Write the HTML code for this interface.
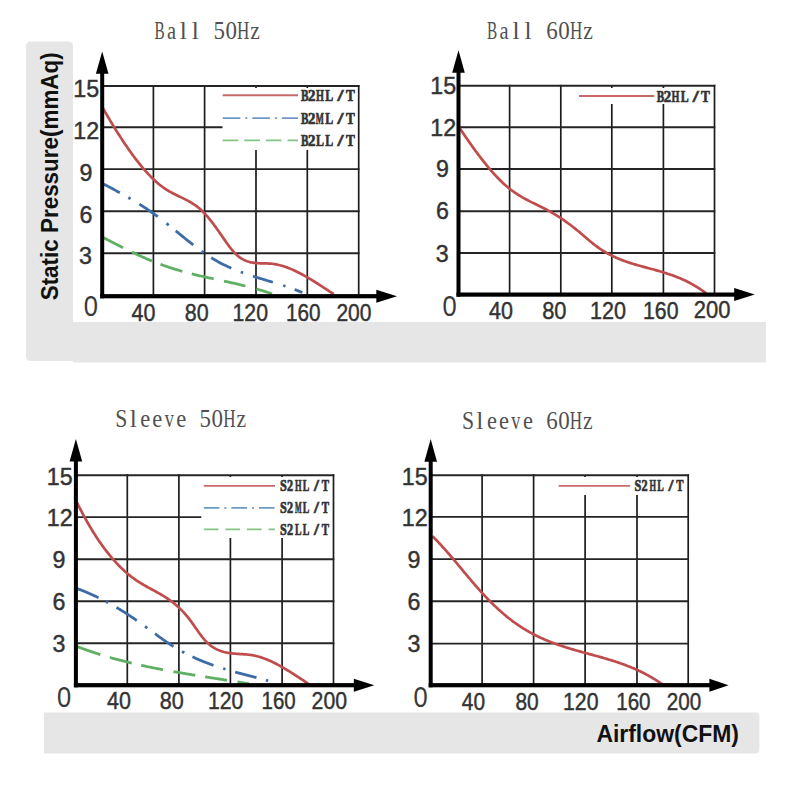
<!DOCTYPE html>
<html><head><meta charset="utf-8"><style>
html,body{margin:0;padding:0;background:#fff;}
body{width:790px;height:787px;overflow:hidden;}
svg{display:block;}
.num{font-family:"Liberation Sans",sans-serif;font-size:24.5px;fill:#333;stroke:#333;stroke-width:0.45px;}
.org{font-family:"Liberation Sans",sans-serif;font-size:29px;fill:#3a3a3a;}
.ttl{font-family:"Liberation Serif",serif;font-size:25.5px;fill:#505050;}
.lg{font-family:"Liberation Serif",serif;font-weight:bold;font-size:16.5px;fill:#333;stroke:#333;stroke-width:0.7px;}
.ax{font-family:"Liberation Sans",sans-serif;font-weight:bold;font-size:24.5px;fill:#111;}
</style></head><body>
<svg width="790" height="787" viewBox="0 0 790 787">
<path d="M26 46.6 Q26 41.6 31 41.6 L68 41.6 Q73 41.6 73 46.6 L73 321.7 L766 321.7 L766 362.4 L73 362.4 L73 361 L31 361 Q26 361 26 356 Z" fill="#e6e6e6"/>
<path d="M43.9 712.4 L755.4 712.4 Q759.4 712.4 759.4 716.4 L759.4 749.6 Q759.4 753.6 755.4 753.6 L43.9 753.6 Z" fill="#e6e6e6"/>
<rect x="73" y="41.6" width="700" height="280.1" fill="#ffffff"/>
<line x1="153.4" y1="85.0" x2="153.4" y2="296.2" stroke="#1c1c1c" stroke-width="1.7"/>
<line x1="204.6" y1="85.0" x2="204.6" y2="296.2" stroke="#1c1c1c" stroke-width="1.7"/>
<line x1="256.0" y1="86.0" x2="256.0" y2="88.0" stroke="#1c1c1c" stroke-width="1.7"/>
<line x1="256.0" y1="150.0" x2="256.0" y2="296.2" stroke="#1c1c1c" stroke-width="1.7"/>
<line x1="307.3" y1="86.0" x2="307.3" y2="88.0" stroke="#1c1c1c" stroke-width="1.7"/>
<line x1="307.3" y1="150.0" x2="307.3" y2="296.2" stroke="#1c1c1c" stroke-width="1.7"/>
<line x1="358.7" y1="85.0" x2="358.7" y2="296.2" stroke="#1c1c1c" stroke-width="1.7"/>
<line x1="102.2" y1="86.0" x2="359.5" y2="86.0" stroke="#242424" stroke-width="1.9"/>
<line x1="102.2" y1="127.3" x2="222.5" y2="127.3" stroke="#242424" stroke-width="1.9"/>
<line x1="102.2" y1="169.1" x2="359.5" y2="169.1" stroke="#242424" stroke-width="1.9"/>
<line x1="102.2" y1="211.2" x2="359.5" y2="211.2" stroke="#242424" stroke-width="1.9"/>
<line x1="102.2" y1="253.2" x2="359.5" y2="253.2" stroke="#242424" stroke-width="1.9"/>
<path d="M102.50 107.50 L103.50 109.23 L104.49 110.95 L105.49 112.66 L106.49 114.36 L107.48 116.05 L108.48 117.74 L109.48 119.41 L110.47 121.08 L111.47 122.73 L112.47 124.37 L113.46 126.01 L114.46 127.63 L115.46 129.24 L116.45 130.84 L117.45 132.42 L118.44 134.00 L119.44 135.56 L120.44 137.11 L121.43 138.64 L122.43 140.16 L123.43 141.67 L124.42 143.17 L125.42 144.65 L126.42 146.11 L127.41 147.56 L128.41 149.00 L129.41 150.42 L130.40 151.82 L131.40 153.21 L132.40 154.58 L133.39 155.94 L134.39 157.28 L135.39 158.60 L136.38 159.90 L137.38 161.19 L138.38 162.46 L139.37 163.71 L140.37 164.94 L141.37 166.15 L142.36 167.35 L143.36 168.52 L144.36 169.68 L145.35 170.81 L146.35 171.92 L147.34 173.02 L148.34 174.09 L149.34 175.14 L150.33 176.17 L151.33 177.18 L152.33 178.17 L153.32 179.13 L154.32 180.08 L155.32 180.99 L156.31 181.89 L157.31 182.76 L158.31 183.61 L159.30 184.44 L160.30 185.24 L161.30 186.01 L162.29 186.76 L163.29 187.49 L164.29 188.19 L165.28 188.87 L166.28 189.52 L167.28 190.14 L168.27 190.74 L169.27 191.33 L170.27 191.89 L171.26 192.44 L172.26 192.97 L173.26 193.49 L174.25 193.99 L175.25 194.49 L176.24 194.98 L177.24 195.47 L178.24 195.95 L179.23 196.42 L180.23 196.90 L181.23 197.38 L182.22 197.86 L183.22 198.35 L184.22 198.84 L185.21 199.34 L186.21 199.85 L187.21 200.38 L188.20 200.92 L189.20 201.47 L190.20 202.04 L191.19 202.63 L192.19 203.25 L193.19 203.88 L194.18 204.55 L195.18 205.23 L196.18 205.95 L197.17 206.70 L198.17 207.48 L199.17 208.29 L200.16 209.14 L201.16 210.03 L202.16 210.96 L203.15 211.93 L204.15 212.94 L205.14 214.00 L206.14 215.09 L207.14 216.22 L208.13 217.39 L209.13 218.59 L210.13 219.82 L211.12 221.08 L212.12 222.36 L213.12 223.67 L214.11 225.01 L215.11 226.36 L216.11 227.74 L217.10 229.13 L218.10 230.53 L219.10 231.95 L220.09 233.37 L221.09 234.81 L222.09 236.25 L223.08 237.69 L224.08 239.14 L225.08 240.58 L226.07 242.01 L227.07 243.42 L228.07 244.81 L229.06 246.17 L230.06 247.50 L231.06 248.78 L232.05 250.00 L233.05 251.17 L234.04 252.28 L235.04 253.32 L236.04 254.29 L237.03 255.20 L238.03 256.04 L239.03 256.83 L240.02 257.56 L241.02 258.23 L242.02 258.85 L243.01 259.41 L244.01 259.92 L245.01 260.39 L246.00 260.81 L247.00 261.19 L248.00 261.53 L248.99 261.82 L249.99 262.09 L250.99 262.32 L251.98 262.51 L252.98 262.68 L253.98 262.83 L254.97 262.95 L255.97 263.05 L256.97 263.13 L257.96 263.19 L258.96 263.24 L259.96 263.28 L260.95 263.32 L261.95 263.34 L262.94 263.36 L263.94 263.38 L264.94 263.40 L265.93 263.42 L266.93 263.45 L267.93 263.49 L268.92 263.54 L269.92 263.60 L270.92 263.68 L271.91 263.78 L272.91 263.89 L273.91 264.03 L274.90 264.18 L275.90 264.35 L276.90 264.55 L277.89 264.75 L278.89 264.98 L279.89 265.23 L280.88 265.49 L281.88 265.76 L282.88 266.06 L283.87 266.37 L284.87 266.69 L285.87 267.03 L286.86 267.39 L287.86 267.76 L288.86 268.14 L289.85 268.54 L290.85 268.95 L291.84 269.37 L292.84 269.81 L293.84 270.26 L294.83 270.72 L295.83 271.19 L296.83 271.67 L297.82 272.17 L298.82 272.67 L299.82 273.18 L300.81 273.71 L301.81 274.24 L302.81 274.78 L303.80 275.34 L304.80 275.89 L305.80 276.46 L306.79 277.04 L307.79 277.62 L308.79 278.21 L309.78 278.80 L310.78 279.41 L311.78 280.01 L312.77 280.63 L313.77 281.24 L314.77 281.87 L315.76 282.49 L316.76 283.12 L317.76 283.76 L318.75 284.40 L319.75 285.04 L320.74 285.68 L321.74 286.33 L322.74 286.97 L323.73 287.62 L324.73 288.27 L325.73 288.92 L326.72 289.58 L327.72 290.23 L328.72 290.88 L329.71 291.53 L330.71 292.18 L331.71 292.83 L332.70 293.47 L333.70 294.12" fill="none" stroke="#bf4d4d" stroke-width="2.70" stroke-linecap="butt" stroke-linejoin="round"/>
<path d="M102.50 183.65 L103.46 184.14 L104.42 184.62 L105.38 185.11 L106.34 185.61 L107.31 186.10 L108.27 186.59 L109.23 187.09 L110.19 187.59 L111.15 188.09 L112.11 188.59 L113.07 189.10 L114.03 189.61 L114.99 190.12 L115.96 190.63 L116.92 191.14 L117.88 191.66 L118.84 192.18 L119.80 192.70 M128.30 197.47 L129.07 197.91 L129.83 198.36 L130.60 198.81 M139.40 204.14 L140.37 204.75 L141.34 205.37 L142.31 205.99 L143.27 206.62 L144.24 207.25 L145.21 207.89 L146.18 208.53 L147.15 209.18 L148.12 209.83 L149.08 210.49 L150.05 211.16 L151.02 211.83 L151.99 212.51 L152.96 213.19 L153.93 213.88 L154.89 214.58 L155.86 215.28 L156.83 215.99 L157.80 216.70 M166.50 223.40 L167.27 224.01 L168.03 224.62 L168.80 225.23 M175.70 230.82 L176.68 231.61 L177.66 232.41 L178.63 233.21 L179.61 234.01 L180.59 234.80 L181.57 235.60 L182.54 236.40 L183.52 237.19 L184.50 237.98 L185.48 238.77 L186.46 239.56 L187.43 240.35 L188.41 241.13 L189.39 241.91 L190.37 242.68 L191.34 243.45 L192.32 244.22 L193.30 244.98 M201.50 251.13 L202.27 251.68 L203.03 252.23 L203.80 252.77 M211.20 257.69 L212.16 258.28 L213.11 258.86 L214.07 259.44 L215.03 260.00 L215.99 260.55 L216.94 261.09 L217.90 261.63 L218.86 262.15 L219.81 262.66 L220.77 263.17 L221.73 263.67 L222.69 264.15 L223.64 264.63 L224.60 265.11 L225.56 265.57 L226.51 266.02 L227.47 266.47 L228.43 266.91 L229.39 267.34 L230.34 267.77 L231.30 268.19 M240.80 272.00 L241.57 272.28 L242.33 272.56 L243.10 272.84 M253.00 276.20 L254.00 276.51 L254.99 276.83 L255.98 277.14 L256.98 277.45 L257.98 277.76 L258.97 278.07 L259.96 278.37 L260.96 278.67 L261.95 278.98 L262.95 279.28 L263.94 279.58 L264.94 279.87 L265.94 280.17 L266.93 280.47 L267.92 280.77 L268.92 281.07 L269.91 281.37 L270.91 281.67 L271.90 281.97 L272.90 282.27 M283.20 285.49 L283.97 285.74 L284.73 285.99 L285.50 286.25 M294.70 289.50 L295.65 289.87 L296.60 290.23 L297.55 290.60 L298.50 290.98 L299.45 291.37 L300.40 291.75 L301.35 292.15 L302.30 292.55" fill="none" stroke="#3d6ca6" stroke-width="2.80" stroke-linecap="butt" stroke-linejoin="round"/>
<path d="M102.60 237.33 L103.58 237.82 L104.55 238.31 L105.53 238.80 L106.50 239.29 L107.48 239.79 L108.46 240.28 L109.43 240.78 L110.41 241.27 L111.39 241.77 L112.36 242.26 L113.34 242.76 L114.31 243.25 L115.29 243.75 L116.27 244.24 L117.24 244.73 L118.22 245.23 L119.20 245.72 L120.17 246.21 L121.15 246.70 L122.12 247.19 L123.10 247.68 M132.00 252.06 L133.00 252.54 L134.00 253.02 L135.00 253.50 L136.00 253.97 L137.00 254.44 L138.00 254.91 L139.00 255.37 L140.00 255.83 L141.00 256.29 L142.00 256.74 L143.00 257.19 L144.00 257.63 L145.00 258.07 L146.00 258.51 L147.00 258.94 L148.00 259.37 L149.00 259.80 L150.00 260.21 L151.00 260.63 L152.00 261.04 M160.50 264.32 L161.49 264.68 L162.48 265.04 L163.47 265.39 L164.46 265.74 L165.45 266.08 L166.45 266.42 L167.44 266.75 L168.43 267.08 L169.42 267.41 L170.41 267.73 L171.40 268.05 L172.39 268.37 L173.38 268.68 L174.37 268.99 L175.36 269.29 L176.35 269.59 L177.35 269.89 L178.34 270.18 L179.33 270.47 L180.32 270.76 L181.31 271.04 L182.30 271.32 M191.80 273.85 L192.80 274.10 L193.79 274.34 L194.79 274.59 L195.78 274.83 L196.78 275.07 L197.77 275.31 L198.77 275.54 L199.76 275.78 L200.76 276.01 L201.75 276.24 L202.75 276.46 L203.75 276.69 L204.74 276.92 L205.74 277.14 L206.73 277.36 L207.73 277.58 L208.72 277.80 L209.72 278.02 L210.71 278.24 L211.71 278.45 L212.70 278.67 L213.70 278.89 M224.00 281.10 L224.97 281.31 L225.95 281.52 L226.92 281.74 L227.89 281.95 L228.86 282.16 L229.84 282.38 L230.81 282.59 L231.78 282.81 L232.75 283.02 L233.73 283.24 L234.70 283.46 L235.67 283.68 L236.65 283.91 L237.62 284.13 L238.59 284.36 L239.56 284.59 L240.54 284.82 L241.51 285.05 L242.48 285.28 L243.45 285.52 L244.43 285.76 L245.40 286.00 M256.40 288.92 L257.38 289.20 L258.35 289.48 L259.32 289.77 L260.30 290.06 L261.27 290.35 L262.25 290.65 L263.22 290.95 L264.20 291.26 L265.18 291.57 L266.15 291.89 L267.12 292.21 L268.10 292.53 L269.07 292.86 L270.05 293.19 L271.02 293.53 L272.00 293.87" fill="none" stroke="#5fb065" stroke-width="2.80" stroke-linecap="butt" stroke-linejoin="round"/>
<rect x="100.2" y="72.8" width="4" height="225.5" fill="#000"/>
<polygon points="102.2,51.5 95.9,73.8 108.5,73.8" fill="#000"/>
<rect x="100.2" y="294.1" width="277.1" height="4.2" fill="#000"/>
<polygon points="397.0,296.2 376.3,289.7 376.3,302.7" fill="#000"/>
<line x1="222.7" y1="95.3" x2="298.0" y2="95.3" stroke="#c96a6a" stroke-width="1.9"/>
<text x="0" y="100.9" transform="translate(304.70 0) scale(0.680 1)" text-anchor="middle" class="lg" style="font-size:16.5px">B</text>
<text x="0" y="100.9" transform="translate(311.80 0) scale(0.900 1)" text-anchor="middle" class="lg" style="font-size:16.5px">2</text>
<text x="0" y="100.9" transform="translate(319.90 0) scale(0.620 1)" text-anchor="middle" class="lg" style="font-size:16.5px">H</text>
<text x="0" y="100.9" transform="translate(329.20 0) scale(0.720 1)" text-anchor="middle" class="lg" style="font-size:16.5px">L</text>
<text x="0" y="100.9" transform="translate(340.60 0) scale(1.300 1)" text-anchor="middle" class="lg" style="font-size:16.5px">/</text>
<text x="0" y="100.9" transform="translate(350.50 0) scale(0.800 1)" text-anchor="middle" class="lg" style="font-size:16.5px">T</text>
<line x1="222.7" y1="118.1" x2="298.0" y2="118.1" stroke="#6f98c8" stroke-width="1.9" stroke-dasharray="17.6 5 2 5"/>
<text x="0" y="123.7" transform="translate(304.70 0) scale(0.680 1)" text-anchor="middle" class="lg" style="font-size:16.5px">B</text>
<text x="0" y="123.7" transform="translate(311.80 0) scale(0.900 1)" text-anchor="middle" class="lg" style="font-size:16.5px">2</text>
<text x="0" y="123.7" transform="translate(319.90 0) scale(0.520 1)" text-anchor="middle" class="lg" style="font-size:16.5px">M</text>
<text x="0" y="123.7" transform="translate(329.20 0) scale(0.720 1)" text-anchor="middle" class="lg" style="font-size:16.5px">L</text>
<text x="0" y="123.7" transform="translate(340.60 0) scale(1.300 1)" text-anchor="middle" class="lg" style="font-size:16.5px">/</text>
<text x="0" y="123.7" transform="translate(350.50 0) scale(0.800 1)" text-anchor="middle" class="lg" style="font-size:16.5px">T</text>
<line x1="222.7" y1="140.4" x2="298.0" y2="140.4" stroke="#86c486" stroke-width="1.9" stroke-dasharray="15.6 6"/>
<text x="0" y="146.0" transform="translate(304.70 0) scale(0.680 1)" text-anchor="middle" class="lg" style="font-size:16.5px">B</text>
<text x="0" y="146.0" transform="translate(311.80 0) scale(0.900 1)" text-anchor="middle" class="lg" style="font-size:16.5px">2</text>
<text x="0" y="146.0" transform="translate(319.90 0) scale(0.720 1)" text-anchor="middle" class="lg" style="font-size:16.5px">L</text>
<text x="0" y="146.0" transform="translate(329.20 0) scale(0.720 1)" text-anchor="middle" class="lg" style="font-size:16.5px">L</text>
<text x="0" y="146.0" transform="translate(340.60 0) scale(1.300 1)" text-anchor="middle" class="lg" style="font-size:16.5px">/</text>
<text x="0" y="146.0" transform="translate(350.50 0) scale(0.800 1)" text-anchor="middle" class="lg" style="font-size:16.5px">T</text>
<text x="0" y="96.9" transform="translate(86.2 0) scale(0.95 1)" class="num" text-anchor="middle">15</text>
<text x="0" y="138.9" transform="translate(86.2 0) scale(0.95 1)" class="num" text-anchor="middle">12</text>
<text x="0" y="180.9" transform="translate(86.0 0) scale(0.95 1)" class="num" text-anchor="middle">9</text>
<text x="0" y="222.9" transform="translate(86.0 0) scale(0.95 1)" class="num" text-anchor="middle">6</text>
<text x="0" y="264.4" transform="translate(85.4 0) scale(0.95 1)" class="num" text-anchor="middle">3</text>
<text x="0" y="316.0" transform="translate(90.8 0) scale(0.88 1)" class="org" text-anchor="middle">0</text>
<text x="131.5" y="320.6" textLength="23.9" lengthAdjust="spacingAndGlyphs" class="num">40</text>
<text x="184.7" y="320.6" textLength="23.9" lengthAdjust="spacingAndGlyphs" class="num">80</text>
<text x="232.5" y="320.6" textLength="35.5" lengthAdjust="spacingAndGlyphs" class="num">120</text>
<text x="286.0" y="320.6" textLength="34.6" lengthAdjust="spacingAndGlyphs" class="num">160</text>
<text x="336.4" y="320.6" textLength="35.1" lengthAdjust="spacingAndGlyphs" class="num">200</text>
<text x="0" y="39.20" transform="translate(159.48 0) scale(0.600 1)" text-anchor="middle" class="ttl">B</text>
<text x="0" y="39.20" transform="translate(171.44 0) scale(0.800 1)" text-anchor="middle" class="ttl">a</text>
<text x="0" y="39.20" transform="translate(183.40 0) scale(1.000 1)" text-anchor="middle" class="ttl">l</text>
<text x="0" y="39.20" transform="translate(195.36 0) scale(1.000 1)" text-anchor="middle" class="ttl">l</text>
<text x="0" y="39.20" transform="translate(219.28 0) scale(0.900 1)" text-anchor="middle" class="ttl">5</text>
<text x="0" y="39.20" transform="translate(231.24 0) scale(0.900 1)" text-anchor="middle" class="ttl">0</text>
<text x="0" y="39.20" transform="translate(243.20 0) scale(0.670 1)" text-anchor="middle" class="ttl">H</text>
<text x="0" y="39.20" transform="translate(255.16 0) scale(0.850 1)" text-anchor="middle" class="ttl">z</text>
<line x1="509.6" y1="84.8" x2="509.6" y2="294.6" stroke="#1c1c1c" stroke-width="1.7"/>
<line x1="560.8" y1="84.8" x2="560.8" y2="294.6" stroke="#1c1c1c" stroke-width="1.7"/>
<line x1="611.8" y1="85.8" x2="611.8" y2="88.0" stroke="#1c1c1c" stroke-width="1.7"/>
<line x1="611.8" y1="104.0" x2="611.8" y2="294.6" stroke="#1c1c1c" stroke-width="1.7"/>
<line x1="663.4" y1="85.8" x2="663.4" y2="88.0" stroke="#1c1c1c" stroke-width="1.7"/>
<line x1="663.4" y1="104.0" x2="663.4" y2="294.6" stroke="#1c1c1c" stroke-width="1.7"/>
<line x1="714.5" y1="84.8" x2="714.5" y2="294.6" stroke="#1c1c1c" stroke-width="1.7"/>
<line x1="458.5" y1="85.8" x2="715.3" y2="85.8" stroke="#242424" stroke-width="1.9"/>
<line x1="458.5" y1="127.3" x2="715.3" y2="127.3" stroke="#242424" stroke-width="1.9"/>
<line x1="458.5" y1="169.0" x2="715.3" y2="169.0" stroke="#242424" stroke-width="1.9"/>
<line x1="458.5" y1="211.2" x2="715.3" y2="211.2" stroke="#242424" stroke-width="1.9"/>
<line x1="458.5" y1="253.0" x2="715.3" y2="253.0" stroke="#242424" stroke-width="1.9"/>
<path d="M459.00 127.13 L460.00 128.62 L461.00 130.10 L461.99 131.57 L462.99 133.04 L463.99 134.51 L464.99 135.96 L465.99 137.41 L466.98 138.85 L467.98 140.29 L468.98 141.72 L469.98 143.13 L470.98 144.54 L471.97 145.95 L472.97 147.34 L473.97 148.72 L474.97 150.09 L475.97 151.45 L476.96 152.80 L477.96 154.14 L478.96 155.47 L479.96 156.78 L480.96 158.09 L481.95 159.38 L482.95 160.66 L483.95 161.92 L484.95 163.17 L485.95 164.41 L486.94 165.63 L487.94 166.84 L488.94 168.03 L489.94 169.21 L490.94 170.37 L491.93 171.52 L492.93 172.65 L493.93 173.76 L494.93 174.86 L495.93 175.93 L496.92 176.99 L497.92 178.04 L498.92 179.06 L499.92 180.06 L500.92 181.05 L501.91 182.02 L502.91 182.96 L503.91 183.89 L504.91 184.79 L505.91 185.68 L506.90 186.54 L507.90 187.38 L508.90 188.20 L509.90 188.99 L510.90 189.77 L511.89 190.52 L512.89 191.25 L513.89 191.96 L514.89 192.66 L515.89 193.33 L516.88 193.99 L517.88 194.63 L518.88 195.26 L519.88 195.87 L520.88 196.46 L521.87 197.05 L522.87 197.62 L523.87 198.18 L524.87 198.73 L525.86 199.27 L526.86 199.80 L527.86 200.32 L528.86 200.83 L529.86 201.34 L530.85 201.84 L531.85 202.34 L532.85 202.84 L533.85 203.33 L534.85 203.82 L535.84 204.30 L536.84 204.79 L537.84 205.28 L538.84 205.76 L539.84 206.25 L540.83 206.74 L541.83 207.24 L542.83 207.74 L543.83 208.24 L544.83 208.75 L545.82 209.27 L546.82 209.80 L547.82 210.33 L548.82 210.87 L549.82 211.43 L550.81 211.99 L551.81 212.56 L552.81 213.14 L553.81 213.73 L554.81 214.33 L555.80 214.94 L556.80 215.56 L557.80 216.19 L558.80 216.83 L559.80 217.48 L560.79 218.14 L561.79 218.80 L562.79 219.48 L563.79 220.17 L564.79 220.86 L565.78 221.57 L566.78 222.28 L567.78 223.00 L568.78 223.74 L569.78 224.48 L570.77 225.23 L571.77 225.99 L572.77 226.76 L573.77 227.54 L574.77 228.33 L575.76 229.12 L576.76 229.93 L577.76 230.74 L578.76 231.57 L579.76 232.40 L580.75 233.25 L581.75 234.09 L582.75 234.95 L583.75 235.80 L584.75 236.66 L585.74 237.51 L586.74 238.37 L587.74 239.22 L588.74 240.07 L589.74 240.91 L590.73 241.74 L591.73 242.56 L592.73 243.36 L593.73 244.16 L594.73 244.94 L595.72 245.70 L596.72 246.45 L597.72 247.18 L598.72 247.88 L599.72 248.58 L600.71 249.25 L601.71 249.90 L602.71 250.54 L603.71 251.17 L604.71 251.77 L605.70 252.36 L606.70 252.94 L607.70 253.50 L608.70 254.04 L609.70 254.58 L610.69 255.09 L611.69 255.60 L612.69 256.09 L613.69 256.57 L614.69 257.04 L615.68 257.49 L616.68 257.93 L617.68 258.36 L618.68 258.78 L619.68 259.19 L620.67 259.59 L621.67 259.98 L622.67 260.37 L623.67 260.74 L624.67 261.10 L625.66 261.46 L626.66 261.80 L627.66 262.14 L628.66 262.47 L629.66 262.80 L630.65 263.12 L631.65 263.43 L632.65 263.74 L633.65 264.04 L634.65 264.34 L635.64 264.63 L636.64 264.92 L637.64 265.21 L638.64 265.49 L639.64 265.77 L640.63 266.04 L641.63 266.32 L642.63 266.59 L643.63 266.86 L644.62 267.13 L645.62 267.40 L646.62 267.66 L647.62 267.93 L648.62 268.20 L649.61 268.47 L650.61 268.73 L651.61 269.00 L652.61 269.28 L653.61 269.55 L654.60 269.82 L655.60 270.10 L656.60 270.38 L657.60 270.66 L658.60 270.94 L659.59 271.23 L660.59 271.52 L661.59 271.82 L662.59 272.12 L663.59 272.42 L664.58 272.73 L665.58 273.04 L666.58 273.36 L667.58 273.68 L668.58 274.01 L669.57 274.35 L670.57 274.69 L671.57 275.04 L672.57 275.39 L673.57 275.76 L674.56 276.13 L675.56 276.51 L676.56 276.89 L677.56 277.29 L678.56 277.69 L679.55 278.10 L680.55 278.52 L681.55 278.95 L682.55 279.39 L683.55 279.85 L684.54 280.31 L685.54 280.78 L686.54 281.26 L687.54 281.75 L688.54 282.26 L689.53 282.78 L690.53 283.31 L691.53 283.85 L692.53 284.40 L693.53 284.97 L694.52 285.55 L695.52 286.14 L696.52 286.75 L697.52 287.37 L698.52 288.01 L699.51 288.66 L700.51 289.32 L701.51 290.00 L702.51 290.70 L703.51 291.41 L704.50 292.14 L705.50 292.88 L706.50 293.65" fill="none" stroke="#bf4d4d" stroke-width="2.70" stroke-linecap="butt" stroke-linejoin="round"/>
<rect x="456.5" y="71.8" width="4" height="224.9" fill="#000"/>
<polygon points="458.5,50.2 452.2,72.8 464.8,72.8" fill="#000"/>
<rect x="456.5" y="292.5" width="278.7" height="4.2" fill="#000"/>
<polygon points="754.8,294.6 734.2,288.1 734.2,301.1" fill="#000"/>
<line x1="579.0" y1="96.0" x2="654.3" y2="96.0" stroke="#c96a6a" stroke-width="1.9"/>
<text x="0" y="101.6" transform="translate(660.54 0) scale(0.680 1)" text-anchor="middle" class="lg" style="font-size:16.5px">B</text>
<text x="0" y="101.6" transform="translate(667.51 0) scale(0.900 1)" text-anchor="middle" class="lg" style="font-size:16.5px">2</text>
<text x="0" y="101.6" transform="translate(675.46 0) scale(0.620 1)" text-anchor="middle" class="lg" style="font-size:16.5px">H</text>
<text x="0" y="101.6" transform="translate(684.58 0) scale(0.720 1)" text-anchor="middle" class="lg" style="font-size:16.5px">L</text>
<text x="0" y="101.6" transform="translate(695.77 0) scale(1.300 1)" text-anchor="middle" class="lg" style="font-size:16.5px">/</text>
<text x="0" y="101.6" transform="translate(705.48 0) scale(0.800 1)" text-anchor="middle" class="lg" style="font-size:16.5px">T</text>
<text x="0" y="93.6" transform="translate(443.2 0) scale(0.95 1)" class="num" text-anchor="middle">15</text>
<text x="0" y="135.6" transform="translate(443.2 0) scale(0.95 1)" class="num" text-anchor="middle">12</text>
<text x="0" y="177.4" transform="translate(442.5 0) scale(0.95 1)" class="num" text-anchor="middle">9</text>
<text x="0" y="219.4" transform="translate(442.5 0) scale(0.95 1)" class="num" text-anchor="middle">6</text>
<text x="0" y="262.2" transform="translate(442.1 0) scale(0.95 1)" class="num" text-anchor="middle">3</text>
<text x="0" y="316.2" transform="translate(449.6 0) scale(0.88 1)" class="org" text-anchor="middle">0</text>
<text x="489.1" y="318.6" textLength="23.9" lengthAdjust="spacingAndGlyphs" class="num">40</text>
<text x="542.2" y="318.6" textLength="24.3" lengthAdjust="spacingAndGlyphs" class="num">80</text>
<text x="590.0" y="318.6" textLength="36.0" lengthAdjust="spacingAndGlyphs" class="num">120</text>
<text x="643.0" y="318.6" textLength="35.5" lengthAdjust="spacingAndGlyphs" class="num">160</text>
<text x="693.8" y="318.2" textLength="36.6" lengthAdjust="spacingAndGlyphs" class="num">200</text>
<text x="0" y="39.20" transform="translate(492.10 0) scale(0.600 1)" text-anchor="middle" class="ttl">B</text>
<text x="0" y="39.20" transform="translate(504.10 0) scale(0.800 1)" text-anchor="middle" class="ttl">a</text>
<text x="0" y="39.20" transform="translate(516.10 0) scale(1.000 1)" text-anchor="middle" class="ttl">l</text>
<text x="0" y="39.20" transform="translate(528.10 0) scale(1.000 1)" text-anchor="middle" class="ttl">l</text>
<text x="0" y="39.20" transform="translate(552.10 0) scale(0.900 1)" text-anchor="middle" class="ttl">6</text>
<text x="0" y="39.20" transform="translate(564.10 0) scale(0.900 1)" text-anchor="middle" class="ttl">0</text>
<text x="0" y="39.20" transform="translate(576.10 0) scale(0.670 1)" text-anchor="middle" class="ttl">H</text>
<text x="0" y="39.20" transform="translate(588.10 0) scale(0.850 1)" text-anchor="middle" class="ttl">z</text>
<line x1="127.3" y1="474.2" x2="127.3" y2="685.2" stroke="#1c1c1c" stroke-width="1.7"/>
<line x1="178.9" y1="474.2" x2="178.9" y2="685.2" stroke="#1c1c1c" stroke-width="1.7"/>
<line x1="230.4" y1="475.2" x2="230.4" y2="477.0" stroke="#1c1c1c" stroke-width="1.7"/>
<line x1="230.4" y1="538.0" x2="230.4" y2="685.2" stroke="#1c1c1c" stroke-width="1.7"/>
<line x1="282.1" y1="475.2" x2="282.1" y2="477.0" stroke="#1c1c1c" stroke-width="1.7"/>
<line x1="282.1" y1="538.0" x2="282.1" y2="685.2" stroke="#1c1c1c" stroke-width="1.7"/>
<line x1="333.5" y1="474.2" x2="333.5" y2="685.2" stroke="#1c1c1c" stroke-width="1.7"/>
<line x1="75.9" y1="475.2" x2="334.3" y2="475.2" stroke="#242424" stroke-width="1.9"/>
<line x1="75.9" y1="517.1" x2="201.3" y2="517.1" stroke="#242424" stroke-width="1.9"/>
<line x1="75.9" y1="559.2" x2="334.3" y2="559.2" stroke="#242424" stroke-width="1.9"/>
<line x1="75.9" y1="601.3" x2="334.3" y2="601.3" stroke="#242424" stroke-width="1.9"/>
<line x1="75.9" y1="643.3" x2="334.3" y2="643.3" stroke="#242424" stroke-width="1.9"/>
<path d="M77.00 502.61 L78.00 504.62 L79.00 506.60 L80.00 508.56 L81.00 510.49 L82.00 512.40 L83.00 514.28 L84.00 516.13 L85.00 517.96 L86.00 519.76 L87.00 521.54 L88.00 523.29 L89.00 525.01 L90.00 526.71 L91.00 528.39 L92.00 530.04 L93.00 531.67 L94.00 533.27 L95.00 534.84 L96.00 536.40 L97.00 537.92 L98.00 539.43 L99.00 540.91 L100.00 542.36 L101.00 543.80 L102.00 545.20 L103.00 546.59 L104.00 547.95 L105.00 549.29 L106.00 550.61 L107.00 551.90 L108.00 553.17 L109.00 554.42 L110.00 555.64 L111.00 556.85 L112.00 558.03 L113.00 559.19 L114.00 560.32 L115.00 561.44 L116.00 562.53 L117.00 563.61 L118.00 564.66 L119.00 565.69 L120.00 566.70 L121.00 567.68 L122.00 568.65 L123.00 569.60 L124.00 570.52 L125.00 571.43 L126.00 572.32 L127.00 573.18 L128.00 574.03 L129.00 574.85 L130.00 575.66 L131.00 576.45 L132.00 577.21 L133.00 577.96 L134.00 578.69 L135.00 579.40 L136.00 580.09 L137.00 580.77 L138.00 581.43 L139.00 582.07 L140.00 582.70 L141.00 583.31 L142.00 583.91 L143.00 584.51 L144.00 585.09 L145.00 585.66 L146.00 586.23 L147.00 586.79 L148.00 587.34 L149.00 587.89 L150.00 588.43 L151.00 588.98 L152.00 589.52 L153.00 590.06 L154.00 590.60 L155.00 591.15 L156.00 591.70 L157.00 592.25 L158.00 592.81 L159.00 593.37 L160.00 593.94 L161.00 594.52 L162.00 595.11 L163.00 595.71 L164.00 596.33 L165.00 596.95 L166.00 597.59 L167.00 598.25 L168.00 598.92 L169.00 599.61 L170.00 600.31 L171.00 601.04 L172.00 601.79 L173.00 602.55 L174.00 603.35 L175.00 604.16 L176.00 605.00 L177.00 605.87 L178.00 606.76 L179.00 607.68 L180.00 608.63 L181.00 609.62 L182.00 610.63 L183.00 611.67 L184.00 612.75 L185.00 613.87 L186.00 615.02 L187.00 616.20 L188.00 617.43 L189.00 618.69 L190.00 620.00 L191.00 621.34 L192.00 622.72 L193.00 624.12 L194.00 625.54 L195.00 626.98 L196.00 628.42 L197.00 629.85 L198.00 631.28 L199.00 632.69 L200.00 634.07 L201.00 635.41 L202.00 636.72 L203.00 637.98 L204.00 639.19 L205.00 640.33 L206.00 641.40 L207.00 642.41 L208.00 643.35 L209.00 644.23 L210.00 645.06 L211.00 645.82 L212.00 646.54 L213.00 647.20 L214.00 647.82 L215.00 648.39 L216.00 648.92 L217.00 649.42 L218.00 649.88 L219.00 650.30 L220.00 650.69 L221.00 651.06 L222.00 651.39 L223.00 651.69 L224.00 651.97 L225.00 652.22 L226.00 652.45 L227.00 652.65 L228.00 652.84 L229.00 653.00 L230.00 653.15 L231.00 653.29 L232.00 653.41 L233.00 653.51 L234.00 653.61 L235.00 653.70 L236.00 653.77 L237.00 653.84 L238.00 653.91 L239.00 653.97 L240.00 654.03 L241.00 654.09 L242.00 654.15 L243.00 654.22 L244.00 654.29 L245.00 654.36 L246.00 654.44 L247.00 654.53 L248.00 654.63 L249.00 654.74 L250.00 654.86 L251.00 655.00 L252.00 655.16 L253.00 655.33 L254.00 655.52 L255.00 655.74 L256.00 655.96 L257.00 656.21 L258.00 656.47 L259.00 656.76 L260.00 657.05 L261.00 657.37 L262.00 657.70 L263.00 658.04 L264.00 658.40 L265.00 658.78 L266.00 659.17 L267.00 659.57 L268.00 659.99 L269.00 660.42 L270.00 660.86 L271.00 661.31 L272.00 661.78 L273.00 662.26 L274.00 662.75 L275.00 663.25 L276.00 663.76 L277.00 664.29 L278.00 664.82 L279.00 665.36 L280.00 665.91 L281.00 666.47 L282.00 667.04 L283.00 667.61 L284.00 668.20 L285.00 668.79 L286.00 669.38 L287.00 669.99 L288.00 670.60 L289.00 671.21 L290.00 671.83 L291.00 672.46 L292.00 673.09 L293.00 673.72 L294.00 674.36 L295.00 675.00 L296.00 675.65 L297.00 676.29 L298.00 676.94 L299.00 677.59 L300.00 678.25 L301.00 678.90 L302.00 679.56 L303.00 680.21 L304.00 680.87 L305.00 681.52 L306.00 682.18 L307.00 682.83 L308.00 683.48" fill="none" stroke="#bf4d4d" stroke-width="2.70" stroke-linecap="butt" stroke-linejoin="round"/>
<path d="M77.00 588.47 L77.98 588.84 L78.95 589.21 L79.93 589.59 L80.91 589.98 L81.89 590.37 L82.86 590.76 L83.84 591.16 L84.82 591.56 L85.80 591.97 L86.77 592.39 L87.75 592.81 L88.73 593.23 L89.70 593.66 L90.68 594.10 L91.66 594.54 L92.64 594.98 L93.61 595.43 L94.59 595.89 L95.57 596.35 L96.55 596.82 L97.52 597.29 L98.50 597.77 M106.00 601.60 L106.73 601.99 L107.47 602.38 L108.20 602.78 M116.50 607.47 L117.47 608.05 L118.43 608.62 L119.40 609.20 L120.37 609.79 L121.33 610.38 L122.30 610.98 L123.27 611.58 L124.23 612.19 L125.20 612.80 L126.17 613.41 L127.13 614.04 L128.10 614.66 L129.07 615.30 L130.03 615.93 L131.00 616.57 L131.97 617.22 L132.93 617.87 L133.90 618.53 L134.87 619.19 L135.83 619.86 L136.80 620.53 M145.00 626.41 L145.77 626.97 L146.53 627.53 L147.30 628.09 M155.00 633.74 L155.97 634.45 L156.95 635.16 L157.92 635.87 L158.89 636.57 L159.87 637.27 L160.84 637.96 L161.82 638.66 L162.79 639.34 L163.76 640.03 L164.74 640.70 L165.71 641.38 L166.68 642.04 L167.66 642.70 L168.63 643.35 L169.61 644.00 L170.58 644.64 L171.55 645.27 L172.53 645.89 L173.50 646.50 M182.00 651.50 L182.77 651.92 L183.53 652.33 L184.30 652.74 M192.50 656.84 L193.50 657.31 L194.50 657.77 L195.50 658.22 L196.50 658.67 L197.50 659.10 L198.50 659.54 L199.50 659.96 L200.50 660.38 L201.50 660.80 L202.50 661.20 L203.50 661.61 L204.50 662.00 L205.50 662.39 L206.50 662.78 L207.50 663.16 L208.50 663.53 L209.50 663.90 L210.50 664.26 L211.50 664.62 L212.50 664.98 L213.50 665.33 M223.20 668.50 L223.97 668.74 L224.73 668.97 L225.50 669.21 M235.20 672.01 L236.17 672.28 L237.14 672.54 L238.10 672.81 L239.07 673.07 L240.04 673.33 L241.01 673.59 L241.98 673.85 L242.95 674.11 L243.91 674.37 L244.88 674.63 L245.85 674.88 L246.82 675.14 L247.79 675.39 L248.75 675.65 L249.72 675.90 L250.69 676.16 L251.66 676.41 L252.63 676.67 L253.60 676.92 L254.56 677.18 L255.53 677.43 L256.50 677.69 M265.90 680.23 L266.67 680.44 L267.43 680.65 L268.20 680.87" fill="none" stroke="#3d6ca6" stroke-width="2.80" stroke-linecap="butt" stroke-linejoin="round"/>
<path d="M77.00 646.51 L77.97 646.88 L78.95 647.25 L79.92 647.62 L80.90 647.98 L81.88 648.34 L82.85 648.70 L83.83 649.05 L84.80 649.40 L85.78 649.75 L86.75 650.09 L87.72 650.43 L88.70 650.77 L89.67 651.11 L90.65 651.44 L91.62 651.77 L92.60 652.09 L93.58 652.42 L94.55 652.74 L95.53 653.06 L96.50 653.37 L97.48 653.69 L98.45 654.00 L99.43 654.31 L100.40 654.61 M109.90 657.45 L110.89 657.73 L111.88 658.01 L112.87 658.29 L113.86 658.57 L114.85 658.84 L115.85 659.11 L116.84 659.38 L117.83 659.65 L118.82 659.91 L119.81 660.17 L120.80 660.43 L121.79 660.69 L122.78 660.94 L123.77 661.19 L124.76 661.45 L125.75 661.69 L126.75 661.94 L127.74 662.18 L128.73 662.43 L129.72 662.67 L130.71 662.90 L131.70 663.14 M141.20 665.31 L142.19 665.53 L143.18 665.74 L144.17 665.95 L145.16 666.17 L146.15 666.38 L147.15 666.58 L148.14 666.79 L149.13 667.00 L150.12 667.20 L151.11 667.40 L152.10 667.60 L153.09 667.80 L154.08 668.00 L155.07 668.20 L156.06 668.39 L157.05 668.58 L158.05 668.78 L159.04 668.97 L160.03 669.16 L161.02 669.35 L162.01 669.53 L163.00 669.72 M173.50 671.62 L174.49 671.79 L175.48 671.97 L176.47 672.14 L177.46 672.31 L178.45 672.48 L179.45 672.65 L180.44 672.82 L181.43 672.98 L182.42 673.15 L183.41 673.32 L184.40 673.48 L185.39 673.64 L186.38 673.81 L187.37 673.97 L188.36 674.13 L189.35 674.30 L190.35 674.46 L191.34 674.62 L192.33 674.78 L193.32 674.94 L194.31 675.10 L195.30 675.26 M205.20 676.83 L206.19 676.98 L207.18 677.14 L208.17 677.29 L209.16 677.45 L210.15 677.60 L211.15 677.76 L212.14 677.91 L213.13 678.07 L214.12 678.22 L215.11 678.38 L216.10 678.53 L217.09 678.69 L218.08 678.84 L219.07 679.00 L220.06 679.15 L221.05 679.31 L222.05 679.47 L223.04 679.62 L224.03 679.78 L225.02 679.93 L226.01 680.09 L227.00 680.25 M237.50 681.94 L238.46 682.10 L239.42 682.25 L240.38 682.41 L241.33 682.57 L242.29 682.73 L243.25 682.89 L244.21 683.05 L245.17 683.21 L246.12 683.37 L247.08 683.54 L248.04 683.70 L249.00 683.87" fill="none" stroke="#5fb065" stroke-width="2.80" stroke-linecap="butt" stroke-linejoin="round"/>
<rect x="73.9" y="460.5" width="4" height="226.8" fill="#000"/>
<polygon points="75.9,438.9 69.6,461.5 82.2,461.5" fill="#000"/>
<rect x="73.9" y="683.1" width="280.9" height="4.2" fill="#000"/>
<polygon points="374.3,685.2 353.8,678.7 353.8,691.7" fill="#000"/>
<line x1="203.8" y1="485.9" x2="275.0" y2="485.9" stroke="#c96a6a" stroke-width="1.9"/>
<text x="0" y="491.5" transform="translate(283.30 0) scale(0.765 1)" text-anchor="middle" class="lg" style="font-size:16.0px">S</text>
<text x="0" y="491.5" transform="translate(290.10 0) scale(0.765 1)" text-anchor="middle" class="lg" style="font-size:16.0px">2</text>
<text x="0" y="491.5" transform="translate(298.30 0) scale(0.527 1)" text-anchor="middle" class="lg" style="font-size:16.0px">H</text>
<text x="0" y="491.5" transform="translate(305.90 0) scale(0.612 1)" text-anchor="middle" class="lg" style="font-size:16.0px">L</text>
<text x="0" y="491.5" transform="translate(316.50 0) scale(1.105 1)" text-anchor="middle" class="lg" style="font-size:16.0px">/</text>
<text x="0" y="491.5" transform="translate(325.40 0) scale(0.680 1)" text-anchor="middle" class="lg" style="font-size:16.0px">T</text>
<line x1="203.8" y1="507.9" x2="275.0" y2="507.9" stroke="#6f98c8" stroke-width="1.9" stroke-dasharray="15.6 5 2 5"/>
<text x="0" y="513.5" transform="translate(283.30 0) scale(0.765 1)" text-anchor="middle" class="lg" style="font-size:16.0px">S</text>
<text x="0" y="513.5" transform="translate(290.10 0) scale(0.765 1)" text-anchor="middle" class="lg" style="font-size:16.0px">2</text>
<text x="0" y="513.5" transform="translate(298.30 0) scale(0.442 1)" text-anchor="middle" class="lg" style="font-size:16.0px">M</text>
<text x="0" y="513.5" transform="translate(305.90 0) scale(0.612 1)" text-anchor="middle" class="lg" style="font-size:16.0px">L</text>
<text x="0" y="513.5" transform="translate(316.50 0) scale(1.105 1)" text-anchor="middle" class="lg" style="font-size:16.0px">/</text>
<text x="0" y="513.5" transform="translate(325.40 0) scale(0.680 1)" text-anchor="middle" class="lg" style="font-size:16.0px">T</text>
<line x1="203.8" y1="529.4" x2="275.0" y2="529.4" stroke="#86c486" stroke-width="1.9" stroke-dasharray="14.6 7"/>
<text x="0" y="535.0" transform="translate(283.30 0) scale(0.765 1)" text-anchor="middle" class="lg" style="font-size:16.0px">S</text>
<text x="0" y="535.0" transform="translate(290.10 0) scale(0.765 1)" text-anchor="middle" class="lg" style="font-size:16.0px">2</text>
<text x="0" y="535.0" transform="translate(298.30 0) scale(0.612 1)" text-anchor="middle" class="lg" style="font-size:16.0px">L</text>
<text x="0" y="535.0" transform="translate(305.90 0) scale(0.612 1)" text-anchor="middle" class="lg" style="font-size:16.0px">L</text>
<text x="0" y="535.0" transform="translate(316.50 0) scale(1.105 1)" text-anchor="middle" class="lg" style="font-size:16.0px">/</text>
<text x="0" y="535.0" transform="translate(325.40 0) scale(0.680 1)" text-anchor="middle" class="lg" style="font-size:16.0px">T</text>
<text x="0" y="484.9" transform="translate(59.7 0) scale(0.95 1)" class="num" text-anchor="middle">15</text>
<text x="0" y="526.2" transform="translate(59.7 0) scale(0.95 1)" class="num" text-anchor="middle">12</text>
<text x="0" y="568.3" transform="translate(58.9 0) scale(0.95 1)" class="num" text-anchor="middle">9</text>
<text x="0" y="610.5" transform="translate(58.9 0) scale(0.95 1)" class="num" text-anchor="middle">6</text>
<text x="0" y="651.6" transform="translate(58.9 0) scale(0.95 1)" class="num" text-anchor="middle">3</text>
<text x="0" y="706.8" transform="translate(64.0 0) scale(0.88 1)" class="org" text-anchor="middle">0</text>
<text x="107.1" y="709.2" textLength="23.9" lengthAdjust="spacingAndGlyphs" class="num">40</text>
<text x="159.7" y="709.2" textLength="24.0" lengthAdjust="spacingAndGlyphs" class="num">80</text>
<text x="208.0" y="708.7" textLength="35.3" lengthAdjust="spacingAndGlyphs" class="num">120</text>
<text x="261.5" y="708.7" textLength="34.2" lengthAdjust="spacingAndGlyphs" class="num">160</text>
<text x="311.6" y="708.7" textLength="35.4" lengthAdjust="spacingAndGlyphs" class="num">200</text>
<text x="0" y="426.90" transform="translate(121.30 0) scale(0.850 1)" text-anchor="middle" class="ttl">S</text>
<text x="0" y="426.90" transform="translate(133.30 0) scale(1.000 1)" text-anchor="middle" class="ttl">l</text>
<text x="0" y="426.90" transform="translate(145.30 0) scale(0.880 1)" text-anchor="middle" class="ttl">e</text>
<text x="0" y="426.90" transform="translate(157.30 0) scale(0.880 1)" text-anchor="middle" class="ttl">e</text>
<text x="0" y="426.90" transform="translate(169.30 0) scale(0.720 1)" text-anchor="middle" class="ttl">v</text>
<text x="0" y="426.90" transform="translate(181.30 0) scale(0.880 1)" text-anchor="middle" class="ttl">e</text>
<text x="0" y="426.90" transform="translate(205.30 0) scale(0.900 1)" text-anchor="middle" class="ttl">5</text>
<text x="0" y="426.90" transform="translate(217.30 0) scale(0.900 1)" text-anchor="middle" class="ttl">0</text>
<text x="0" y="426.90" transform="translate(229.30 0) scale(0.670 1)" text-anchor="middle" class="ttl">H</text>
<text x="0" y="426.90" transform="translate(241.30 0) scale(0.850 1)" text-anchor="middle" class="ttl">z</text>
<line x1="482.1" y1="474.2" x2="482.1" y2="685.2" stroke="#1c1c1c" stroke-width="1.7"/>
<line x1="533.6" y1="474.2" x2="533.6" y2="685.2" stroke="#1c1c1c" stroke-width="1.7"/>
<line x1="585.1" y1="475.2" x2="585.1" y2="477.0" stroke="#1c1c1c" stroke-width="1.7"/>
<line x1="585.1" y1="495.0" x2="585.1" y2="685.2" stroke="#1c1c1c" stroke-width="1.7"/>
<line x1="637.0" y1="475.2" x2="637.0" y2="477.0" stroke="#1c1c1c" stroke-width="1.7"/>
<line x1="637.0" y1="495.0" x2="637.0" y2="685.2" stroke="#1c1c1c" stroke-width="1.7"/>
<line x1="688.2" y1="474.2" x2="688.2" y2="685.2" stroke="#1c1c1c" stroke-width="1.7"/>
<line x1="430.7" y1="475.2" x2="689.0" y2="475.2" stroke="#242424" stroke-width="1.9"/>
<line x1="430.7" y1="516.9" x2="689.0" y2="516.9" stroke="#242424" stroke-width="1.9"/>
<line x1="430.7" y1="559.1" x2="689.0" y2="559.1" stroke="#242424" stroke-width="1.9"/>
<line x1="430.7" y1="601.2" x2="689.0" y2="601.2" stroke="#242424" stroke-width="1.9"/>
<line x1="430.7" y1="643.6" x2="689.0" y2="643.6" stroke="#242424" stroke-width="1.9"/>
<path d="M432.50 536.27 L433.50 537.25 L434.50 538.25 L435.50 539.27 L436.50 540.30 L437.50 541.34 L438.50 542.39 L439.50 543.46 L440.50 544.53 L441.50 545.62 L442.50 546.72 L443.50 547.83 L444.50 548.95 L445.50 550.08 L446.50 551.21 L447.50 552.36 L448.50 553.51 L449.50 554.67 L450.50 555.83 L451.50 557.00 L452.50 558.18 L453.50 559.36 L454.50 560.55 L455.50 561.74 L456.50 562.93 L457.50 564.12 L458.50 565.32 L459.50 566.52 L460.50 567.72 L461.50 568.92 L462.50 570.12 L463.50 571.33 L464.50 572.53 L465.50 573.72 L466.50 574.92 L467.50 576.12 L468.50 577.31 L469.50 578.50 L470.50 579.68 L471.50 580.86 L472.50 582.03 L473.50 583.20 L474.50 584.36 L475.50 585.52 L476.50 586.67 L477.50 587.81 L478.50 588.94 L479.50 590.07 L480.50 591.18 L481.50 592.29 L482.50 593.38 L483.50 594.47 L484.50 595.54 L485.50 596.61 L486.50 597.66 L487.50 598.70 L488.50 599.73 L489.50 600.75 L490.50 601.76 L491.50 602.76 L492.50 603.74 L493.50 604.72 L494.50 605.68 L495.50 606.63 L496.50 607.58 L497.50 608.51 L498.50 609.42 L499.50 610.33 L500.50 611.23 L501.50 612.11 L502.50 612.98 L503.50 613.84 L504.50 614.69 L505.50 615.53 L506.50 616.35 L507.50 617.17 L508.50 617.97 L509.50 618.76 L510.50 619.53 L511.50 620.30 L512.50 621.05 L513.50 621.79 L514.50 622.51 L515.50 623.23 L516.50 623.93 L517.50 624.63 L518.50 625.31 L519.50 625.97 L520.50 626.63 L521.50 627.28 L522.50 627.91 L523.50 628.54 L524.50 629.15 L525.50 629.76 L526.50 630.35 L527.50 630.93 L528.50 631.51 L529.50 632.07 L530.50 632.63 L531.50 633.17 L532.50 633.71 L533.50 634.23 L534.50 634.75 L535.50 635.26 L536.50 635.76 L537.50 636.25 L538.50 636.73 L539.50 637.21 L540.50 637.67 L541.50 638.13 L542.50 638.58 L543.50 639.03 L544.50 639.46 L545.50 639.89 L546.50 640.31 L547.50 640.73 L548.50 641.14 L549.50 641.54 L550.50 641.94 L551.50 642.32 L552.50 642.71 L553.50 643.09 L554.50 643.46 L555.50 643.82 L556.50 644.18 L557.50 644.54 L558.50 644.89 L559.50 645.23 L560.50 645.57 L561.50 645.91 L562.50 646.24 L563.50 646.57 L564.50 646.89 L565.50 647.21 L566.50 647.52 L567.50 647.84 L568.50 648.14 L569.50 648.45 L570.50 648.75 L571.50 649.05 L572.50 649.34 L573.50 649.64 L574.50 649.93 L575.50 650.21 L576.50 650.50 L577.50 650.78 L578.50 651.06 L579.50 651.34 L580.50 651.62 L581.50 651.90 L582.50 652.18 L583.50 652.45 L584.50 652.72 L585.50 653.00 L586.50 653.27 L587.50 653.54 L588.50 653.81 L589.50 654.08 L590.50 654.35 L591.50 654.63 L592.50 654.90 L593.50 655.17 L594.50 655.44 L595.50 655.72 L596.50 655.99 L597.50 656.27 L598.50 656.55 L599.50 656.83 L600.50 657.11 L601.50 657.39 L602.50 657.67 L603.50 657.96 L604.50 658.25 L605.50 658.54 L606.50 658.83 L607.50 659.13 L608.50 659.43 L609.50 659.73 L610.50 660.04 L611.50 660.35 L612.50 660.66 L613.50 660.98 L614.50 661.30 L615.50 661.62 L616.50 661.95 L617.50 662.29 L618.50 662.62 L619.50 662.97 L620.50 663.31 L621.50 663.67 L622.50 664.02 L623.50 664.39 L624.50 664.76 L625.50 665.13 L626.50 665.51 L627.50 665.90 L628.50 666.29 L629.50 666.69 L630.50 667.09 L631.50 667.50 L632.50 667.92 L633.50 668.35 L634.50 668.78 L635.50 669.22 L636.50 669.67 L637.50 670.12 L638.50 670.58 L639.50 671.05 L640.50 671.53 L641.50 672.02 L642.50 672.51 L643.50 673.02 L644.50 673.53 L645.50 674.05 L646.50 674.58 L647.50 675.12 L648.50 675.67 L649.50 676.23 L650.50 676.80 L651.50 677.38 L652.50 677.96 L653.50 678.56 L654.50 679.17 L655.50 679.79 L656.50 680.42 L657.50 681.06 L658.50 681.71 L659.50 682.38 L660.50 683.05 L661.50 683.74 L662.50 684.43" fill="none" stroke="#bf4d4d" stroke-width="2.70" stroke-linecap="butt" stroke-linejoin="round"/>
<rect x="428.7" y="460.8" width="4" height="226.5" fill="#000"/>
<polygon points="430.7,438.9 424.4,461.8 437.0,461.8" fill="#000"/>
<rect x="428.7" y="683.1" width="281.7" height="4.2" fill="#000"/>
<polygon points="728.6,685.2 709.4,678.7 709.4,691.7" fill="#000"/>
<line x1="558.6" y1="485.9" x2="630.1" y2="485.9" stroke="#c96a6a" stroke-width="1.9"/>
<text x="0" y="491.5" transform="translate(637.80 0) scale(0.765 1)" text-anchor="middle" class="lg" style="font-size:16.0px">S</text>
<text x="0" y="491.5" transform="translate(644.60 0) scale(0.765 1)" text-anchor="middle" class="lg" style="font-size:16.0px">2</text>
<text x="0" y="491.5" transform="translate(652.80 0) scale(0.527 1)" text-anchor="middle" class="lg" style="font-size:16.0px">H</text>
<text x="0" y="491.5" transform="translate(660.40 0) scale(0.612 1)" text-anchor="middle" class="lg" style="font-size:16.0px">L</text>
<text x="0" y="491.5" transform="translate(671.00 0) scale(1.105 1)" text-anchor="middle" class="lg" style="font-size:16.0px">/</text>
<text x="0" y="491.5" transform="translate(679.90 0) scale(0.680 1)" text-anchor="middle" class="lg" style="font-size:16.0px">T</text>
<text x="0" y="485.3" transform="translate(414.7 0) scale(0.95 1)" class="num" text-anchor="middle">15</text>
<text x="0" y="526.4" transform="translate(414.7 0) scale(0.95 1)" class="num" text-anchor="middle">12</text>
<text x="0" y="568.4" transform="translate(414.0 0) scale(0.95 1)" class="num" text-anchor="middle">9</text>
<text x="0" y="610.5" transform="translate(414.0 0) scale(0.95 1)" class="num" text-anchor="middle">6</text>
<text x="0" y="651.9" transform="translate(414.0 0) scale(0.95 1)" class="num" text-anchor="middle">3</text>
<text x="0" y="706.7" transform="translate(420.7 0) scale(0.88 1)" class="org" text-anchor="middle">0</text>
<text x="461.8" y="710.3" textLength="23.2" lengthAdjust="spacingAndGlyphs" class="num">40</text>
<text x="515.4" y="710.3" textLength="23.3" lengthAdjust="spacingAndGlyphs" class="num">80</text>
<text x="563.0" y="710.3" textLength="35.5" lengthAdjust="spacingAndGlyphs" class="num">120</text>
<text x="616.2" y="710.3" textLength="34.4" lengthAdjust="spacingAndGlyphs" class="num">160</text>
<text x="666.8" y="710.3" textLength="34.5" lengthAdjust="spacingAndGlyphs" class="num">200</text>
<text x="0" y="429.40" transform="translate(467.90 0) scale(0.850 1)" text-anchor="middle" class="ttl">S</text>
<text x="0" y="429.40" transform="translate(479.90 0) scale(1.000 1)" text-anchor="middle" class="ttl">l</text>
<text x="0" y="429.40" transform="translate(491.90 0) scale(0.880 1)" text-anchor="middle" class="ttl">e</text>
<text x="0" y="429.40" transform="translate(503.90 0) scale(0.880 1)" text-anchor="middle" class="ttl">e</text>
<text x="0" y="429.40" transform="translate(515.90 0) scale(0.720 1)" text-anchor="middle" class="ttl">v</text>
<text x="0" y="429.40" transform="translate(527.90 0) scale(0.880 1)" text-anchor="middle" class="ttl">e</text>
<text x="0" y="429.40" transform="translate(551.90 0) scale(0.900 1)" text-anchor="middle" class="ttl">6</text>
<text x="0" y="429.40" transform="translate(563.90 0) scale(0.900 1)" text-anchor="middle" class="ttl">0</text>
<text x="0" y="429.40" transform="translate(575.90 0) scale(0.670 1)" text-anchor="middle" class="ttl">H</text>
<text x="0" y="429.40" transform="translate(587.90 0) scale(0.850 1)" text-anchor="middle" class="ttl">z</text>
<text x="0" y="0" transform="translate(57.6,300.3) rotate(-90)" textLength="248" lengthAdjust="spacingAndGlyphs" class="ax">Static Pressure(mmAq)</text>
<text x="596.4" y="741.8" textLength="142.6" lengthAdjust="spacingAndGlyphs" class="ax">Airflow(CFM)</text>
</svg>
</body></html>
